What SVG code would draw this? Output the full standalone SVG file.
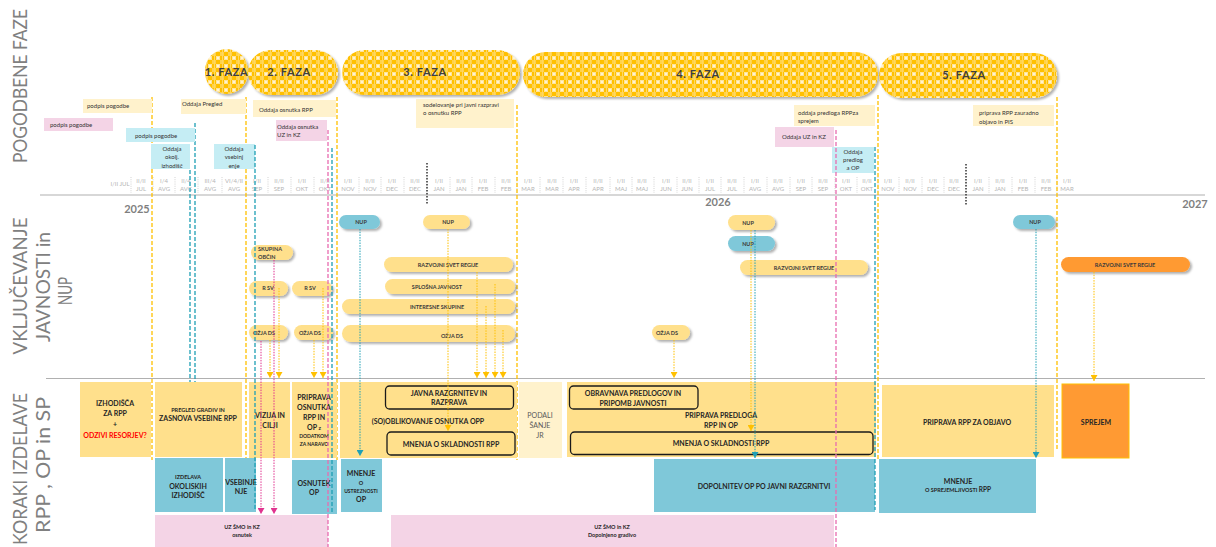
<svg xmlns="http://www.w3.org/2000/svg" width="1216" height="547" viewBox="0 0 1216 547">
<style>
text{font-family:Lato,"Liberation Sans",sans-serif}
.title{font-size:20px;fill:#808080;text-anchor:middle}
.ph{font-size:11px;font-weight:700;fill:#3f3f3f;text-anchor:middle;letter-spacing:0.6px}
.tl{font-size:6px;fill:#b5b5b5;text-anchor:middle}
.yr{font-size:11px;font-weight:700;fill:#7f7f7f;text-anchor:middle}
.note{font-size:6px;fill:#333}
.nc{font-size:6px;fill:#333;text-anchor:middle}
.pt{font-size:5.5px;font-weight:700;fill:#3b3b3b;text-anchor:middle}
.bx{font-size:7px;font-weight:700;fill:#262626;text-anchor:middle}
.sm{font-size:5.5px;font-weight:700;fill:#262626;text-anchor:middle}
.fy{fill:#FFE08C}
.fly{fill:#FFF2CC}
.ft{fill:#7FC8D9}
.fp{fill:#F4D4E6}
.fc{fill:#C5EDF4}
.fo{fill:#FF9A33}
.pill{filter:url(#sh)}
.phase{fill:url(#chk);filter:url(#sh)}
.rb{fill:none;stroke:#1a1a1a;stroke-width:1.3}
.dy{stroke:#FFC000;stroke-width:1.3;stroke-dasharray:4 2;fill:none}
.dt{stroke:#1E9FB4;stroke-width:1.3;stroke-dasharray:4 2;fill:none}
.dp{stroke:#E86CB0;stroke-width:1.3;stroke-dasharray:4 2;fill:none}
.dk{stroke:#333;stroke-width:1.5;stroke-dasharray:1.5 1.5;fill:none}
.sep{stroke:#c8c8c8;stroke-width:0.8;stroke-dasharray:1 1.2;fill:none}
.ax{stroke:#b0b0b0;stroke-width:1.2;fill:none}
.ay{stroke:#FFC000;stroke-width:1;stroke-dasharray:1.5 1.2;fill:none;marker-end:url(#mY)}
.at{stroke:#1FA0B5;stroke-width:1;stroke-dasharray:1.5 1.2;fill:none;marker-end:url(#mT)}
.am{stroke:#E0338F;stroke-width:1;stroke-dasharray:1.5 1.2;fill:none;marker-end:url(#mM)}
</style>
<defs>
<pattern id="chk" width="8" height="8" patternUnits="userSpaceOnUse">
<rect width="8" height="8" fill="#FFC000"/>
<rect x="0" y="0" width="4" height="4" fill="#FFE49A"/>
<rect x="4" y="4" width="4" height="4" fill="#FFD24D"/>
<rect x="1" y="1" width="2" height="2" fill="#FFF3CF"/>
<rect x="6" y="0" width="1" height="8" fill="#FFD860"/>
</pattern>
<filter id="sh" x="-10%" y="-30%" width="130%" height="170%">
<feDropShadow dx="2" dy="2" stdDeviation="1.2" flood-color="#000" flood-opacity="0.3"/>
</filter>
<marker id="mY" markerWidth="7" markerHeight="7" refX="6" refY="3.5" orient="auto" markerUnits="userSpaceOnUse"><path d="M0,0 L6,3.5 L0,7 z" fill="#FFC000"/></marker>
<marker id="mT" markerWidth="7" markerHeight="7" refX="6" refY="3.5" orient="auto" markerUnits="userSpaceOnUse"><path d="M0,0 L6,3.5 L0,7 z" fill="#1FA0B5"/></marker>
<marker id="mM" markerWidth="7" markerHeight="7" refX="6" refY="3.5" orient="auto" markerUnits="userSpaceOnUse"><path d="M0,0 L6,3.5 L0,7 z" fill="#E0338F"/></marker>
</defs>
<rect width="1216" height="547" fill="#fff"/>

<!-- section titles -->
<g id="titles">
<text class="title" transform="translate(27,86) rotate(-90)" textLength="154" lengthAdjust="spacingAndGlyphs">POGODBENE FAZE</text>
<text class="title" transform="translate(27,286) rotate(-90)" textLength="137" lengthAdjust="spacingAndGlyphs">VKLJUČEVANJE</text>
<text class="title" transform="translate(50,287) rotate(-90)" textLength="110" lengthAdjust="spacingAndGlyphs">JAVNOSTI in</text>
<text class="title" transform="translate(72,291) rotate(-90)" textLength="28" lengthAdjust="spacingAndGlyphs">NUP</text>
<text class="title" transform="translate(27,469) rotate(-90)" textLength="152" lengthAdjust="spacingAndGlyphs">KORAKI IZDELAVE</text>
<text class="title" transform="translate(50,465) rotate(-90)" textLength="136" lengthAdjust="spacingAndGlyphs">RPP , OP in SP</text>
</g>

<!-- axes -->
<g id="axes">
<line class="ax" x1="40" y1="195" x2="1205" y2="195"/>
<line class="ax" x1="46" y1="378.5" x2="1205" y2="378.5"/>
<path class="sep" d="M131,177V193M153,177V193M175,177V193M198,177V193M222,177V193M246,177V193M268,177V193M291,177V193M314,177V193M337,177V193M359,177V193M381,177V193M404,177V193M427,177V193M450,177V193M472,177V193M495,177V193M517,177V193M540,177V193M563,177V193M586,177V193M610,177V193M632,177V193M654,177V193M677,177V193M699,177V193M721,177V193M744,177V193M767,177V193M790,177V193M812,177V193M835,177V193M857,177V193M878,177V193M899,177V193M922,177V193M944,177V193M966,177V193M989,177V193M1012,177V193M1035,177V193M1057,177V193"/>
<text class="tl" x="120" y="186">I/II JUL</text>
<text class="tl" y="183"><tspan x="141">II/II</tspan><tspan x="164">I/4</tspan><tspan x="186">II/4</tspan><tspan x="210">III/4</tspan><tspan x="234">VI/4/II</tspan><tspan x="257">I/II</tspan><tspan x="279">II/II</tspan><tspan x="302">I/II</tspan><tspan x="325">II/II</tspan><tspan x="348">I/II</tspan><tspan x="370">II/II</tspan><tspan x="392">I/II</tspan><tspan x="415">II/II</tspan><tspan x="439">I/II</tspan><tspan x="461">II/II</tspan><tspan x="483">I/II</tspan><tspan x="506">II/II</tspan><tspan x="528">I/II</tspan><tspan x="552">II/II</tspan><tspan x="574">I/II</tspan><tspan x="598">II/II</tspan><tspan x="621">I/II</tspan><tspan x="642">II/II</tspan><tspan x="666">I/II</tspan><tspan x="687">II/II</tspan><tspan x="710">I/II</tspan><tspan x="732">II/II</tspan><tspan x="755">I/II</tspan><tspan x="778">II/II</tspan><tspan x="801">I/II</tspan><tspan x="823">II/II</tspan><tspan x="846">I/II</tspan><tspan x="867">II/II</tspan><tspan x="888">I/II</tspan><tspan x="910">II/II</tspan><tspan x="933">I/II</tspan><tspan x="954">II/II</tspan><tspan x="978">I/II</tspan><tspan x="1000">II/II</tspan><tspan x="1023">I/II</tspan><tspan x="1046">II/II</tspan><tspan x="1067">I/II</tspan></text>
<text class="tl" y="191"><tspan x="141">JUL</tspan><tspan x="164">AVG</tspan><tspan x="186">AVG</tspan><tspan x="210">AVG</tspan><tspan x="234">AVG</tspan><tspan x="257">SEP</tspan><tspan x="279">SEP</tspan><tspan x="302">OKT</tspan><tspan x="325">OKT</tspan><tspan x="348">NOV</tspan><tspan x="370">NOV</tspan><tspan x="392">DEC</tspan><tspan x="415">DEC</tspan><tspan x="439">JAN</tspan><tspan x="461">JAN</tspan><tspan x="483">FEB</tspan><tspan x="506">FEB</tspan><tspan x="528">MAR</tspan><tspan x="552">MAR</tspan><tspan x="574">APR</tspan><tspan x="598">APR</tspan><tspan x="621">MAJ</tspan><tspan x="642">MAJ</tspan><tspan x="666">JUN</tspan><tspan x="687">JUN</tspan><tspan x="710">JUL</tspan><tspan x="732">JUL</tspan><tspan x="755">AVG</tspan><tspan x="778">AVG</tspan><tspan x="801">SEP</tspan><tspan x="823">SEP</tspan><tspan x="846">OKT</tspan><tspan x="867">OKT</tspan><tspan x="888">NOV</tspan><tspan x="910">NOV</tspan><tspan x="933">DEC</tspan><tspan x="954">DEC</tspan><tspan x="978">JAN</tspan><tspan x="1000">JAN</tspan><tspan x="1023">FEB</tspan><tspan x="1046">FEB</tspan><tspan x="1067">MAR</tspan></text>
<text class="yr" x="137" y="213">2025</text>
<text class="yr" x="718" y="206">2026</text>
<text class="yr" x="1195" y="208">2027</text>
<line class="dk" x1="427" y1="163" x2="427" y2="205"/>
<line class="dk" x1="966" y1="164" x2="966" y2="205"/>
</g>

<!-- phase boundary lines (under boxes) -->
<g id="phase-lines">
<line class="dy" x1="152" y1="97" x2="152" y2="460"/>
<line class="dy" x1="246" y1="97" x2="246" y2="460"/>
<line class="dy" x1="337" y1="97" x2="337" y2="460"/>
<line class="dy" x1="517" y1="105" x2="517" y2="460"/>
<line class="dy" x1="878" y1="95" x2="878" y2="460"/>
<line class="dy" x1="1057" y1="97" x2="1057" y2="450"/>
<line class="dt" x1="190" y1="170" x2="190" y2="460"/>
<line class="dt" x1="195" y1="123" x2="195" y2="460"/>
</g>

<!-- phases -->
<g id="faza1"><rect class="phase" x="205" y="49" width="43" height="45" rx="21.5"/><text class="ph" x="226.5" y="76">1. FAZA</text></g>
<g id="faza2"><rect class="phase" x="248" y="50" width="90" height="45" rx="22.5"/><text class="ph" x="289" y="76">2. FAZA</text></g>
<g id="faza3"><rect class="phase" x="342" y="50" width="178" height="45" rx="22.5"/><text class="ph" x="425" y="76">3. FAZA</text></g>
<g id="faza4"><rect class="phase" x="523" y="52" width="355" height="45" rx="22.5"/><text class="ph" x="698" y="78">4. FAZA</text></g>
<g id="faza5"><rect class="phase" x="879" y="53" width="178" height="45" rx="22.5"/><text class="ph" x="964" y="79">5. FAZA</text></g>

<!-- contractual notes -->
<g id="n-podpis-y"><rect class="fly" x="83" y="99" width="69" height="14"/><text class="note" x="87" y="108">podpis pogodbe</text></g>
<g id="n-podpis-p"><rect class="fp" x="44" y="118" width="69" height="13"/><text class="note" x="50" y="127">podpis pogodbe</text></g>
<g id="n-podpis-c"><rect class="fc" x="126" y="128" width="69" height="14"/><text class="note" x="135" y="138">podpis pogodbe</text></g>
<g id="n-okolj"><rect class="fc" x="151" y="144" width="39" height="25"/><text class="nc"><tspan x="172" y="151">Oddaja</tspan><tspan x="172" y="159">okolj.</tspan><tspan x="172" y="168">izhodišč</tspan></text></g>
<g id="n-pregled"><rect class="fly" x="181" y="99" width="65" height="15"/><text class="note" x="182" y="106">Oddaja Pregled</text></g>
<g id="n-vsebin"><rect class="fc" x="214" y="144" width="41" height="25"/><text class="nc"><tspan x="234" y="151">Oddaja</tspan><tspan x="234" y="159">vsebinj</tspan><tspan x="234" y="168">enje</tspan></text></g>
<g id="n-osnutek-rpp"><rect class="fly" x="253" y="100" width="83" height="17"/><text class="note" x="259" y="112">Oddaja osnutka RPP</text></g>
<g id="n-osnutek-uz"><rect class="fp" x="276" y="120" width="51" height="21"/><text class="note"><tspan x="277" y="129">Oddaja osnutka</tspan><tspan x="277" y="137">UZ in KZ</tspan></text></g>
<g id="n-sodelovanje"><rect class="fly" x="416" y="99" width="98" height="29"/><text class="note"><tspan x="423" y="107">sodelovanje pri javni razpravi</tspan><tspan x="423" y="115">o osnutku RPP</tspan></text></g>
<g id="n-predlog-rpp"><rect class="fly" x="794" y="105" width="81" height="21"/><text class="note"><tspan x="798" y="115">oddaja predloga RPPza</tspan><tspan x="798" y="123">sprejem</tspan></text></g>
<g id="n-uz-kz"><rect class="fp" x="775" y="127" width="59" height="20"/><text class="note" x="782" y="139">Oddaja UZ in KZ</text></g>
<g id="n-predlog-op"><rect class="fc" x="832" y="147" width="42" height="26"/><text class="nc"><tspan x="853" y="154">Oddaja</tspan><tspan x="853" y="162">predlog</tspan><tspan x="853" y="170">a OP</tspan></text></g>
<g id="n-objava"><rect class="fly" x="973" y="105" width="81" height="21"/><text class="note"><tspan x="979" y="115">priprava RPP zauradno</tspan><tspan x="979" y="124">objavo in PIS</tspan></text></g>

<!-- public participation pills -->
<g id="p-nup1"><rect class="pill ft" x="339" y="215" width="41" height="14" rx="7"/><text class="pt" x="361" y="224">NUP</text></g>
<g id="p-skupina"><rect class="pill fy" x="251" y="245" width="42" height="15" rx="7.5"/><text class="pt" style="text-anchor:start"><tspan x="258" y="251">SKUPINA</tspan><tspan x="258" y="258.5">OBČIN</tspan></text></g>
<g id="p-rsv1"><rect class="pill fy" x="249" y="281" width="39" height="15" rx="7.5"/><text class="pt" x="268" y="290">R SV</text></g>
<g id="p-rsv2"><rect class="pill fy" x="292" y="281" width="40" height="15" rx="7.5"/><text class="pt" x="310" y="290">R SV</text></g>
<g id="p-ozja1"><rect class="pill fy" x="249" y="325" width="39" height="15" rx="7.5"/><text class="pt" x="264" y="335">OŽJA DS</text></g>
<g id="p-ozja2"><rect class="pill fy" x="294" y="325" width="39" height="15" rx="7.5"/><text class="pt" x="310" y="335">OŽJA DS</text></g>
<g id="p-nup2"><rect class="pill fy" x="423" y="215" width="47" height="14" rx="7"/><text class="pt" x="448" y="224">NUP</text></g>
<g id="p-rsr1"><rect class="pill fy" x="384" y="257" width="129" height="15" rx="7.5"/><text class="pt" x="448" y="267">RAZVOJNI SVET REGIJE</text></g>
<g id="p-splosna"><rect class="pill fy" x="385" y="279" width="130" height="15" rx="7.5"/><text class="pt" x="437" y="289">SPLOŠNA JAVNOST</text></g>
<g id="p-interesne"><rect class="pill fy" x="342" y="299" width="173" height="15" rx="7.5"/><text class="pt" x="437" y="309">INTERESNE SKUPINE</text></g>
<g id="p-ozja3"><rect class="pill fy" x="342" y="325" width="173" height="17" rx="8.5"/><text class="pt" x="452" y="338">OŽJA DS</text></g>
<g id="p-ozja4"><rect class="pill fy" x="652" y="325" width="38" height="15" rx="7.5"/><text class="pt" x="667" y="335">OŽJA DS</text></g>
<g id="p-nup3"><rect class="pill fy" x="728" y="215" width="47" height="15" rx="7.5"/><text class="pt" x="748" y="225">NUP</text></g>
<g id="p-nup4"><rect class="pill ft" x="728" y="236" width="47" height="15" rx="7.5"/><text class="pt" x="748" y="245.5">NUP</text></g>
<g id="p-rsr2"><rect class="pill fy" x="740" y="260" width="128" height="15" rx="7.5"/><text class="pt" x="804" y="270">RAZVOJNI SVET REGIJE</text></g>
<g id="p-nup5"><rect class="pill ft" x="1013" y="215" width="42" height="14" rx="7"/><text class="pt" x="1035" y="224">NUP</text></g>
<g id="p-rsr3"><rect class="pill fo" x="1061" y="257" width="129" height="15" rx="7.5"/><text class="pt" x="1125" y="267">RAZVOJNI SVET REGIJE</text></g>

<!-- steps -->
<g id="s-izhodisca"><rect class="fy" x="80" y="382" width="71" height="75"/><text class="bx"><tspan x="115" y="405.5">IZHODIŠČA</tspan><tspan x="115" y="415.5">ZA RPP</tspan><tspan x="115" y="426.5">+</tspan><tspan x="115" y="437.5" fill="#FF0000">ODZIVI RESORJEV?</tspan></text></g>
<g id="s-zasnova"><rect class="fy" x="155" y="382" width="87" height="75"/><text class="sm" x="198" y="412">PREGLED GRADIV IN</text><text class="bx" x="198" y="420.5">ZASNOVA VSEBINE RPP</text></g>
<g id="s-vizija"><rect class="fy" x="249" y="382" width="41" height="76"/><text class="bx"><tspan x="270" y="417.5">VIZIJA IN</tspan><tspan x="270" y="427.5">CILJI</tspan></text></g>
<g id="s-osnutek"><rect class="fy" x="292" y="382" width="45" height="76"/><text class="bx"><tspan x="314" y="399.5">PRIPRAVA</tspan><tspan x="314" y="410">OSNUTKA</tspan><tspan x="314" y="419.5">RPP IN</tspan><tspan x="314" y="429.5">OP <tspan font-size="5.5">z</tspan></tspan></text><text class="sm" style="font-size:5px"><tspan x="314" y="438">DODATKOM</tspan><tspan x="314" y="446">ZA NARAVO</tspan></text></g>
<g id="s-soobl"><rect class="fy" x="340" y="382" width="177" height="76"/>
<rect class="rb" x="385.5" y="386" width="128" height="23" rx="4"/><text class="bx"><tspan x="449" y="395.5">JAVNA RAZGRNITEV IN</tspan><tspan x="449" y="404.5">RAZPRAVA</tspan></text>
<text class="bx" x="428" y="423.5">(SO)OBLIKOVANJE OSNUTKA OPP</text>
<rect class="rb" x="387" y="432" width="128" height="23" rx="4"/><text class="bx" x="451" y="446.5">MNENJA O SKLADNOSTI RPP</text></g>
<g id="s-podalj"><rect class="fly" x="519" y="382" width="43" height="76"/><text class="bx" style="font-weight:400;fill:#595959"><tspan x="540" y="417.5">PODALI</tspan><tspan x="540" y="427.5">ŠANJE</tspan><tspan x="540" y="437.5">JR</tspan></text></g>
<g id="s-predlog"><rect class="fy" x="567" y="382" width="309" height="75"/>
<rect class="rb" x="569.5" y="386" width="128.5" height="23" rx="4"/><text class="bx"><tspan x="633" y="395.5">OBRAVNAVA PREDLOGOV IN</tspan><tspan x="633" y="405.5">PRIPOMB JAVNOSTI</tspan></text>
<text class="bx"><tspan x="721" y="417.5">PRIPRAVA PREDLOGA</tspan><tspan x="721" y="427.5">RPP IN OP</tspan></text>
<rect class="rb" x="570.5" y="432" width="302.5" height="22.5" rx="4"/><text class="bx" x="721" y="445.5">MNENJA O SKLADNOSTI RPP</text></g>
<g id="s-objava"><rect class="fy" x="882" y="385" width="172" height="72"/><text class="bx" x="967" y="424.5">PRIPRAVA RPP ZA OBJAVO</text></g>
<g id="s-sprejem"><rect class="fo" x="1062" y="384" width="67" height="74" stroke="#FFC000" stroke-width="1"/><text class="bx" x="1096" y="424.5">SPREJEM</text></g>

<g id="s-okoljska"><rect class="ft" x="155" y="458" width="68" height="54"/><text class="sm" x="188" y="479">IZDELAVA</text><text class="bx"><tspan x="188" y="488.5">OKOLISKIH</tspan><tspan x="188" y="497.5">IZHODIŠČ</tspan></text></g>
<g id="s-vsebinjenje"><rect class="ft" x="225" y="458" width="31" height="54"/><text class="bx"><tspan x="241" y="484.5">VSEBINJE</tspan><tspan x="241" y="493.5">NJE</tspan></text></g>
<g id="s-osnutek-op"><rect class="ft" x="292" y="460" width="45" height="54"/><text class="bx"><tspan x="314" y="485.5">OSNUTEK</tspan><tspan x="314" y="494.5">OP</tspan></text></g>
<g id="s-ustreznost"><rect class="ft" x="341" y="459" width="41" height="53"/><text class="bx" x="361" y="475.5">MNENJE</text><text class="sm"><tspan x="361" y="485">O</tspan><tspan x="361" y="493" font-size="5">USTREZNOSTI</tspan></text><text class="bx" x="361" y="501.5">OP</text></g>
<g id="s-dopolnitev"><rect class="ft" x="654" y="459" width="221" height="53"/><text class="bx" x="764" y="488.5">DOPOLNITEV OP PO JAVNI RAZGRNITVI</text></g>
<g id="s-sprejemljivost"><rect class="ft" x="879" y="459" width="157" height="54"/><text class="bx" x="958" y="483.5">MNENJE</text><text class="sm" x="958" y="492">O SPREJEMLJIVOSTI <tspan font-size="6.5">RPP</tspan></text></g>

<g id="s-uz1"><rect class="fp" x="155" y="515" width="173" height="32"/><text class="sm"><tspan x="242" y="529">UZ ŠMO in KZ</tspan><tspan x="242" y="537">osnutek</tspan></text></g>
<g id="s-uz2"><rect class="fp" x="391" y="515" width="443" height="32"/><text class="sm"><tspan x="612" y="529">UZ ŠMO in KZ</tspan><tspan x="612" y="537">Dopolnjeno gradivo</tspan></text></g>

<!-- connectors -->
<g id="connectors">
<line class="dt" x1="255" y1="145" x2="255" y2="511"/>
<line class="dt" x1="332" y1="148" x2="332" y2="512"/>
<line class="dt" x1="875" y1="147" x2="875" y2="510"/>
<line class="dp" x1="328" y1="130" x2="328" y2="547"/>
<line class="dp" x1="836" y1="130" x2="836" y2="547"/>
<line class="ay" x1="270" y1="340" x2="270" y2="378"/>
<line class="ay" x1="279" y1="288" x2="279" y2="378"/>
<line class="ay" x1="314" y1="340" x2="314" y2="378"/>
<line class="ay" x1="323" y1="288" x2="323" y2="378"/>
<line class="ay" x1="448" y1="229" x2="448" y2="431"/>
<line class="ay" x1="477" y1="272" x2="477" y2="378"/>
<line class="ay" x1="486" y1="306" x2="486" y2="378"/>
<line class="ay" x1="495" y1="284" x2="495" y2="378"/>
<line class="ay" x1="503" y1="330" x2="503" y2="378"/>
<line class="ay" x1="674" y1="340" x2="674" y2="378"/>
<line class="ay" x1="751" y1="230" x2="751" y2="431"/>
<line class="ay" x1="1094" y1="272" x2="1094" y2="381"/>
<line class="at" x1="360" y1="229" x2="360" y2="456"/>
<line class="at" x1="755" y1="230" x2="755" y2="458"/>
<line class="at" x1="1036" y1="229" x2="1036" y2="458"/>
<line class="am" x1="261" y1="341" x2="261" y2="514"/>
<line class="am" x1="274" y1="260" x2="274" y2="514"/>
</g>
</svg>
